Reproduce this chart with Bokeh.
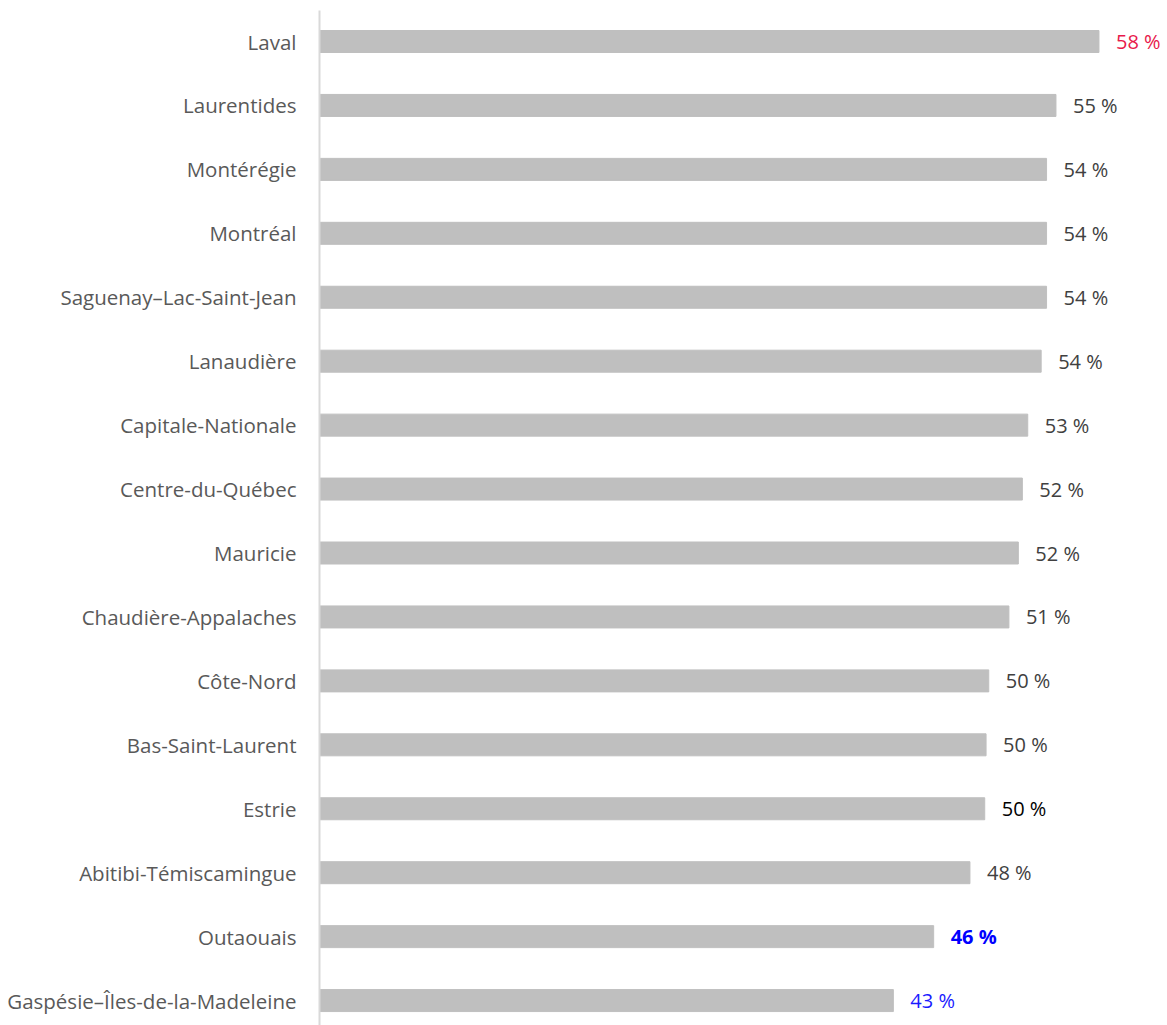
from bokeh.plotting import figure
from bokeh.models import ColumnDataSource, Range1d, FixedTicker
from bokeh.embed import file_html
from bokeh.resources import INLINE
from bokeh.core.properties import value

regions = ["Laval", "Laurentides", "Montérégie", "Montréal", "Saguenay–Lac-Saint-Jean",
           "Lanaudière", "Capitale-Nationale", "Centre-du-Québec", "Mauricie",
           "Chaudière-Appalaches", "Côte-Nord", "Bas-Saint-Laurent", "Estrie",
           "Abitibi-Témiscamingue", "Outaouais", "Gaspésie–Îles-de-la-Madeleine"]
values = [58.0, 54.8, 54.1, 54.1, 54.1, 53.7, 52.7, 52.3, 52.0, 51.3, 49.8, 49.6, 49.5, 48.4, 45.7, 42.7]
shown = [58, 55, 54, 54, 54, 54, 53, 52, 52, 51, 50, 50, 50, 48, 46, 43]
label_colors = ["#E8194B", "#404040", "#404040", "#404040", "#404040", "#404040", "#404040",
                "#404040", "#404040", "#404040", "#404040", "#404040", "#000000", "#404040",
                "#0000FF", "#1A1AFF"]
label_weights = ["normal"] * 14 + ["bold", "normal"]

n = len(regions)
ypos = [n - 1 - i for i in range(n)]
labels = [f"{s} %" for s in shown]

src = ColumnDataSource(dict(y=ypos, v=values, lab=labels, col=label_colors, fw=label_weights,
                            lx=[v + 17 / 13.43 for v in values]))

p = figure(width=1167, height=1025, output_backend="svg", toolbar_location=None,
           x_range=Range1d(0, 63.1), y_range=Range1d(-0.39, 15.485),
           min_border_left=319, min_border_right=0, min_border_top=10, min_border_bottom=0)

p.hbar(y="y", right="v", left=0, height=0.344, source=src, color="#BFBFBF")
p.text(x="lx", y="y", text="lab", source=src, text_color="col", text_font_style="fw",
       text_font=value("Open Sans"), text_font_size="20px", text_baseline="middle", text_align="left")

p.xaxis.visible = False
p.yaxis.ticker = FixedTicker(ticks=ypos)
p.yaxis.major_label_overrides = {yy: r for yy, r in zip(ypos, regions)}
p.yaxis.major_tick_line_color = None
p.yaxis.minor_tick_line_color = None
p.yaxis.axis_line_color = "#D9D9D9"
p.yaxis.axis_line_width = 2
p.yaxis.major_label_standoff = 17
p.yaxis.major_label_text_font = "Open Sans"
p.yaxis.major_label_text_font_size = "20.5px"
p.yaxis.major_label_text_color = "#595959"
p.grid.visible = False
p.outline_line_color = None

open("out.html", "w").write(file_html(p, INLINE))
